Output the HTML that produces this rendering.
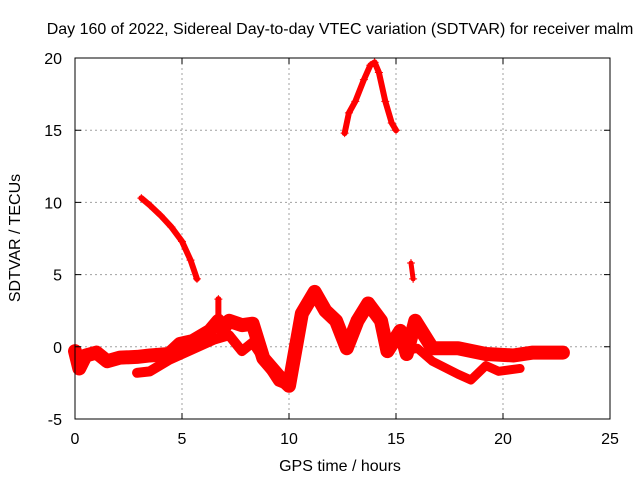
<!DOCTYPE html>
<html><head><meta charset="utf-8"><style>
body{margin:0;background:#fff}
svg text{font-family:"Liberation Sans",sans-serif;font-size:16px;fill:#000}
</style></head><body>
<svg width="640" height="480" viewBox="0 0 640 480">
<g id="grid"></g>
<g id="series"></g>
<rect x="75" y="58" width="535" height="361" fill="none" stroke="#000" stroke-width="1"/>
<g id="ticks"></g>
<text x="340" y="34" text-anchor="middle">Day 160 of 2022, Sidereal Day-to-day VTEC variation (SDTVAR) for receiver malm</text>
<text x="340" y="471" text-anchor="middle">GPS time / hours</text>
<text transform="translate(20,238) rotate(-90)" text-anchor="middle">SDTVAR / TECUs</text>
</svg>
<script>
const xTicks=[0,5,10,15,20,25];
const yTicks=[-5,0,5,10,15,20];
const arcHours=[12.6,12.8,13.1,13.5,13.8,14.0,14.2,14.5,14.8,15.0];
const arcValues=[14.8,16.2,17.0,18.5,19.5,19.7,19.0,17.0,15.5,15.0];
const slopeHours=[3.1,3.5,4.0,4.5,5.0,5.4,5.7];
const slopeValues=[10.3,9.8,9.1,8.3,7.3,6.0,4.7];
const blipHours=[15.7,15.8];
const blipValues=[5.8,4.7];
const upperHours=[0,0.2,0.5,1.0,1.5,2.1,2.9,3.5,4.4,4.9,5.5,6.3,6.7,6.9,7.2,7.8,8.3,8.8,9.5,10.0,10.6,11.2,11.7,12.2,12.7,13.2,13.7,14.3,14.6,15.2,15.5,15.9,16.7,17.9,19.2,20.5,21.4,22.8];
const upperValues=[-0.3,-1.5,-0.6,-0.4,-1.0,-0.75,-0.7,-0.6,-0.5,0.2,0.4,1.1,1.8,1.2,1.8,1.5,1.6,-0.8,-2.0,-2.7,2.3,3.8,2.5,1.8,-0.1,1.8,3.0,1.8,-0.3,1.1,-0.5,1.8,-0.1,-0.1,-0.5,-0.6,-0.4,-0.4];
const lowerHours=[2.9,3.5,4.4,6.5,7.2,7.8,8.3,8.8,9.5,10.0];
const lowerValues=[-1.8,-1.7,-0.9,0.5,0.8,-0.3,0.3,-0.8,-2.4,-2.7];
const branchHours=[15.7,16.0,16.7,17.9,18.5,19.2,19.8,20.8];
const branchValues=[-0.2,-0.1,-1.0,-1.9,-2.3,-1.3,-1.7,-1.5];
const spikeHours=[6.7,6.7];
const spikeValues=[1.5,3.3];

const X0=75,X1=610,Y0=419,Y1=58;
const sx=h=>X0+(h-0)/25*(X1-X0);
const sy=v=>Y0-(v+5)/25*(Y0-Y1);
const NS="http://www.w3.org/2000/svg";
const grid=document.getElementById('grid'),ticks=document.getElementById('ticks'),ser=document.getElementById('series');
function mk(tag,attrs,parent){const e=document.createElementNS(NS,tag);for(const k in attrs)e.setAttribute(k,attrs[k]);parent.appendChild(e);return e;}
xTicks.forEach(t=>{
  const x=sx(t);
  if(t>0&&t<25){const g=mk('line',{x1:x,x2:x,y1:Y1,y2:Y0,stroke:'#a0a0a0','stroke-dasharray':'2,3'},grid);
  
  }
  const tk=mk('path',{d:`M${x},${Y0}v-6M${x},${Y1}v6`,stroke:'#000'},ticks);
  
  
  const l=mk('text',{x:x,y:444,'text-anchor':'middle'},ticks);l.textContent=t;
  
  
});
yTicks.forEach(t=>{
  const y=sy(t);
  if(t>-5&&t<20){const g=mk('line',{x1:X0,x2:X1,y1:y,y2:y,stroke:'#a0a0a0','stroke-dasharray':'2,3'},grid);
  
  }
  const tk=mk('path',{d:`M${X0},${y}h6M${X1},${y}h-6`,stroke:'#000'},ticks);
  
  
  const l=mk('text',{x:62,y:y+6,'text-anchor':'end'},ticks);l.textContent=t;
  
  
});
function draw(hs,vs,w,name){
  const pts=hs.map((h,i)=>sx(h)+','+sy(vs[i])).join(' ');
  const p=mk('polyline',{points:pts,fill:'none',stroke:'#f00','stroke-width':w,'stroke-linejoin':'round','stroke-linecap':'round'},ser);
  
  
  let d='';hs.forEach((h,i)=>{const x=sx(h),y=sy(vs[i]);d+=`M${x-4},${y}h8M${x},${y-4}v8`;});
  const m=mk('path',{d:d,stroke:'#f00','stroke-width':1},ser);
  
  
}
draw(upperHours,upperValues,14,'sdtvar-upper-trace');
draw(lowerHours,lowerValues,10,'sdtvar-lower-trace');
draw(branchHours,branchValues,9,'sdtvar-branch-trace');
draw(spikeHours,spikeValues,6,'sdtvar-spike');
draw(arcHours,arcValues,6,'sdtvar-arc');
draw(slopeHours,slopeValues,6,'sdtvar-slope');
draw(blipHours,blipValues,5,'sdtvar-blip');
</script>
</body></html>
